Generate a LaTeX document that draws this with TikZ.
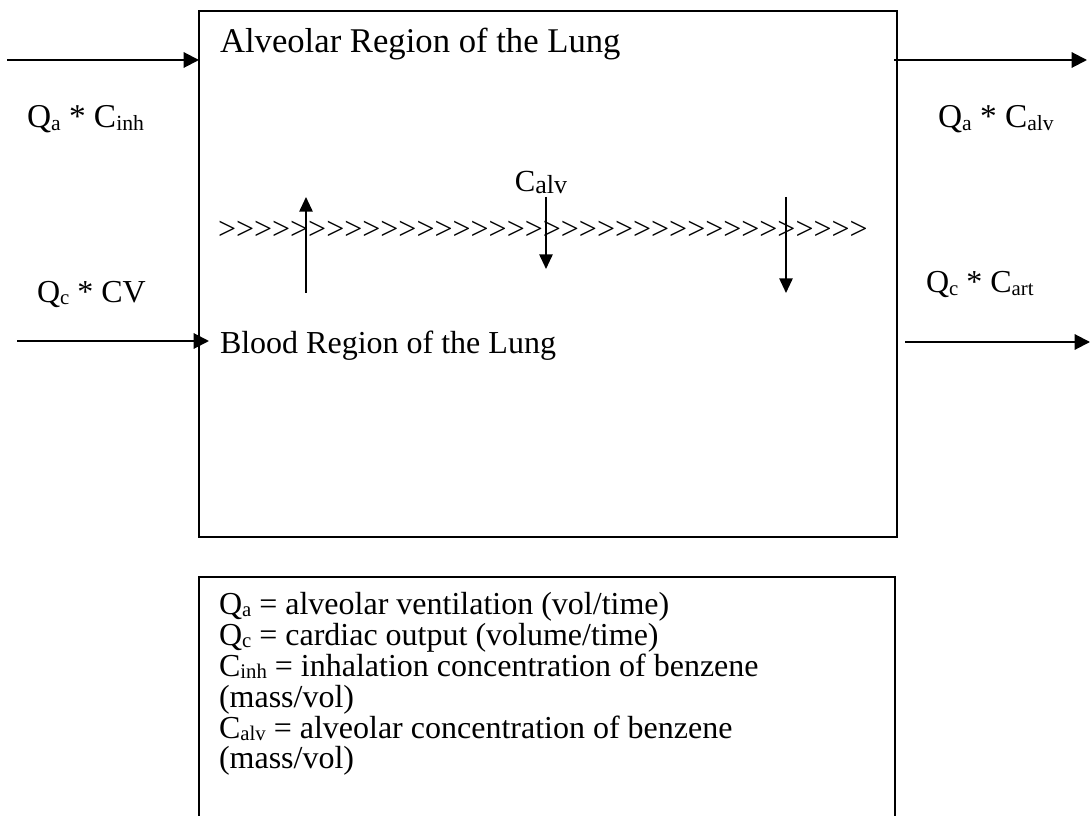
\documentclass[tikz,border=0pt]{standalone}
\usepackage{fontspec}
\usepackage{graphicx}
\setmainfont{Liberation Serif}
\usetikzlibrary{arrows.meta,fit}

% lowered, reduced subscript in text
\newcommand\low[1]{\raisebox{-0.07em}{\scalebox{0.65}{#1}}}

\tikzset{
  txt/.style={inner sep=0pt, outer sep=0pt, anchor=base west,
              font=\fontsize{24}{28}\selectfont},
  bigtxt/.style={txt, font=\fontsize{25}{30}\selectfont},
  frame/.style={draw, line width=1.6pt, inner sep=0pt, outer sep=0pt},
  flow/.style={line width=1.5pt, -{Triangle[length=11.5pt,width=11.5pt]}},
  xfer/.style={line width=1.3pt, -{Triangle[length=11pt,width=10pt]}}
}

\begin{document}
\begin{tikzpicture}[x=0.75pt, y=-0.75pt]
\clip (0,0) rectangle (1091,816);
\fill[white] (0,0) rectangle (1091,816);

% lung compartment
\node[frame, fit={(199,11) (897,537)}] (lung) {};

% legend box
\node[frame, fit={(199,577) (895,840)}] (legend) {};

% compartment titles
\node[bigtxt, font=\fontsize{26}{30}\selectfont] (alvtitle) at (220,53) {Alveolar Region of the Lung};
\node[txt] (bloodtitle) at (220,353) {Blood Region of the Lung};

% exchange membrane
\node[txt] (membrane) at (218,240)
  {>{}>{}>{}>{}>{}>{}>{}>{}>{}>{}>{}>{}>{}>{}>{}>{}>{}>{}>{}>{}>{}>{}>{}>{}>{}>{}>{}>{}>{}>{}>{}>{}>{}>{}>{}>};
\node[txt, anchor=base, font=\fontsize{23}{26}\selectfont] (calvmid) at (541,192)
  {C\raisebox{-0.05em}{\scalebox{0.85}{alv}}};

% flow labels
\node[bigtxt] (lblinh) at (27,128) {Q\low{a} * C\low{inh}};
\node[bigtxt] (lblalv) at (938,128) {Q\low{a} * C\low{alv}};
\node[txt] (lblcv) at (37,302) {Q\low{c} * CV};
\node[txt] (lblart) at (926,293) {Q\low{c} * C\low{art}};

% legend text
\node[txt] (leg1) at (219,614) {Q\low{a} = alveolar ventilation (vol/time)};
\node[txt] (leg2) at (219,645) {Q\low{c} = cardiac output (volume/time)};
\node[txt] (leg3) at (219,676) {C\low{inh} = inhalation concentration of benzene};
\node[txt] (leg4) at (219,707) {(mass/vol)};
\node[txt] (leg5) at (219,738) {C\low{alv} = alveolar concentration of benzene};
\node[txt] (leg6) at (219,768) {(mass/vol)};

% end points of the flows
\coordinate (inhS) at (7,60);
\coordinate (inhE) at (lung.west |- inhS);
\coordinate (alvS) at (894,60);
\coordinate (alvE) at (1087,60);
\coordinate (cvS) at (17,341);
\coordinate (cvE) at (209,341);
\coordinate (artS) at (905,342);
\coordinate (artE) at (1090,342);
\coordinate (upS) at (306,293);
\coordinate (upE) at (306,197);
\coordinate (midS) at (546,197);
\coordinate (midE) at (546,269);
\coordinate (rgtS) at (786,197);
\coordinate (rgtE) at (786,293);

% air and blood flows
\draw[flow] (inhS) -- (inhE);
\draw[flow] (alvS) -- (alvE);
\draw[flow] (cvS) -- (cvE);
\draw[flow] (artS) -- (artE);

% transfer across the membrane
\draw[xfer] (upS) -- (upE);
\draw[xfer] (midS) -- (midE);
\draw[xfer] (rgtS) -- (rgtE);
\end{tikzpicture}
\end{document}
